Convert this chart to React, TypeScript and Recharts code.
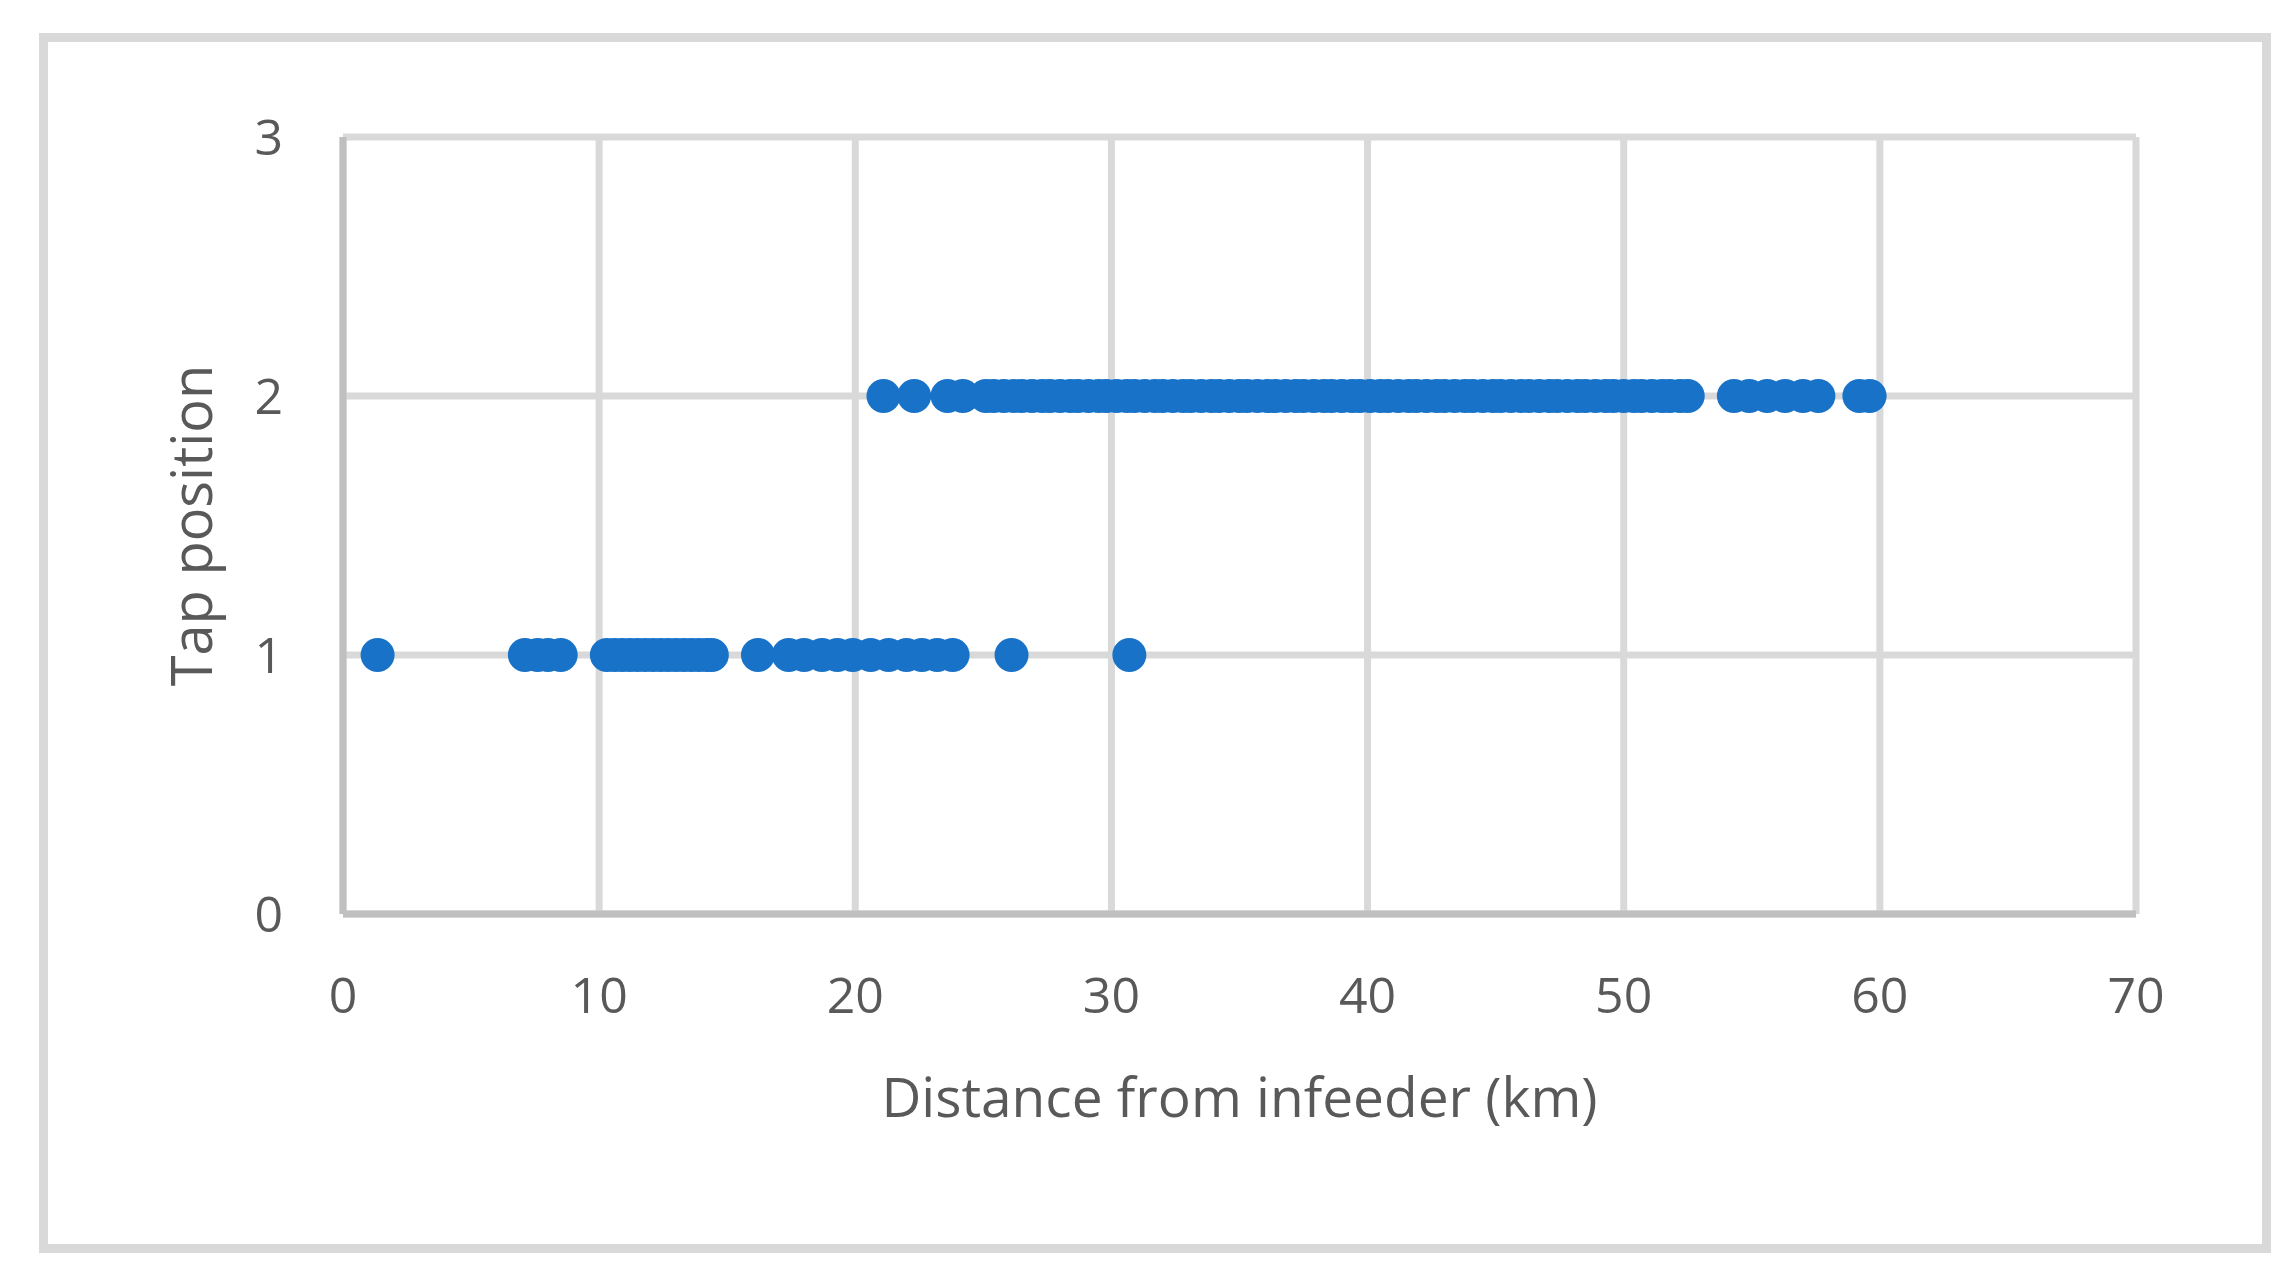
import React from 'react';
import { ScatterChart, Scatter, XAxis, YAxis, CartesianGrid, Label } from 'recharts';

// Distances (km) of points sitting at tap position 1
const tapOneKm = [
  1.35, 7.1, 7.6, 8.0, 8.5,
  10.3, 10.6, 10.9, 11.2, 11.5, 11.8, 12.1, 12.4, 12.7, 13.0, 13.3, 13.6, 13.9, 14.2, 14.4,
  16.2, 17.4, 18.0, 18.7, 19.3, 19.9, 20.6, 21.3, 22.0, 22.6, 23.2, 23.8,
  26.1, 30.7,
];

// Distances (km) of points sitting at tap position 2
const tapTwoKm = [
  21.1, 22.3, 23.6, 24.2,
  25.1, 25.4, 25.8, 26.2, 26.5, 26.9, 27.3, 27.6, 28.0, 28.4, 28.7, 29.1, 29.5, 29.8,
  30.2, 30.6, 30.9, 31.3, 31.7, 32.0, 32.4, 32.8, 33.1, 33.5, 33.9, 34.2, 34.6, 35.0,
  35.3, 35.7, 36.1, 36.4, 36.8, 37.2, 37.5, 37.9, 38.3, 38.6, 39.0, 39.4, 39.7, 40.1,
  40.5, 40.8, 41.2, 41.6, 41.9, 42.3, 42.7, 43.0, 43.4, 43.8, 44.1, 44.5, 44.9, 45.2,
  45.6, 46.0, 46.3, 46.7, 47.1, 47.4, 47.8, 48.2, 48.5, 48.9, 49.3, 49.6, 50.0, 50.4,
  50.7, 51.1, 51.5, 51.8, 52.2, 52.5,
  54.3, 54.9, 55.6, 56.3, 57.0, 57.6, 59.2, 59.6,
];

const xTicks = [0, 10, 20, 30, 40, 50, 60, 70];
const yTicks = [0, 1, 2, 3];

const tapOne = tapOneKm.map(km => ({ km, tap: 1 }));
const tapTwo = tapTwoKm.map(km => ({ km, tap: 2 }));

const FONT = '"Open Sans", sans-serif';
const TEXT = '#595959';
const DOT = '#1873c8';
const DOT_R = 17;

const Dot = (props: any) => <circle cx={props.cx} cy={props.cy} r={DOT_R} fill={DOT} />;

const App: React.FC = () => {
  return (
    <div style={{ position: 'absolute', left: 0, top: 0, width: 2294, height: 1287, background: '#fff' }}>
      {/* outer chart frame */}
      <div
        style={{
          position: 'absolute', left: 39, top: 33, width: 2232, height: 1220,
          border: '9px solid #d9d9d9', boxSizing: 'border-box',
        }}
      />
      <div style={{ position: 'absolute', left: 0, top: 0 }}>
        <ScatterChart width={2294} height={1287} margin={{ top: 137, right: 158, bottom: 173, left: 170 }}>
          <CartesianGrid stroke="#d9d9d9" strokeWidth={7} />
          <XAxis
            type="number"
            dataKey="km"
            domain={[0, 70]}
            ticks={xTicks}
            height={200}
            tickSize={0}
            tickMargin={63}
            axisLine={{ stroke: '#bfbfbf', strokeWidth: 7 }}
            tick={{ fill: TEXT, fontSize: 50, fontFamily: FONT }}
          >
            <Label
              content={(props: any) => {
                const vb = props.viewBox;
                return (
                  <text
                    x={vb.x + vb.width / 2}
                    y={vb.y + 203}
                    textAnchor="middle"
                    fill={TEXT}
                    fontSize={55}
                    fontFamily={FONT}
                  >
                    Distance from infeeder (km)
                  </text>
                );
              }}
            />
          </XAxis>
          <YAxis
            type="number"
            dataKey="tap"
            domain={[0, 3]}
            ticks={yTicks}
            width={173}
            tickSize={0}
            tickMargin={60}
            axisLine={{ stroke: '#bfbfbf', strokeWidth: 7 }}
            tick={{ fill: TEXT, fontSize: 50, fontFamily: FONT }}
          >
            <Label
              content={(props: any) => {
                const vb = props.viewBox;
                const x = vb.x + vb.width - 131;
                const y = vb.y + vb.height / 2;
                return (
                  <text
                    x={x}
                    y={y}
                    transform={`rotate(-90, ${x}, ${y})`}
                    textAnchor="middle"
                    fill={TEXT}
                    fontSize={56}
                    fontFamily={FONT}
                  >
                    Tap position
                  </text>
                );
              }}
            />
          </YAxis>
          <Scatter data={tapOne} fill={DOT} shape={Dot} isAnimationActive={false} />
          <Scatter data={tapTwo} fill={DOT} shape={Dot} isAnimationActive={false} />
        </ScatterChart>
      </div>
    </div>
  );
};

export default App;
